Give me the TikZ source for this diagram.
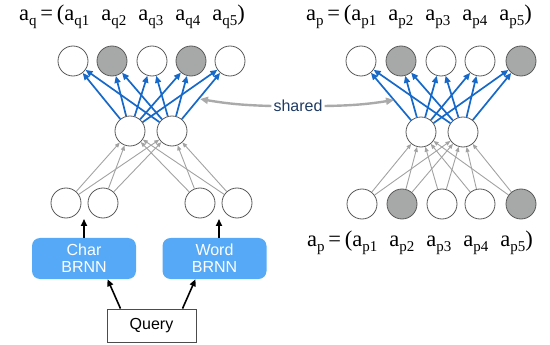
\documentclass[tikz,border=0pt]{standalone}
\usepackage{fontspec}
\setmainfont{Liberation Serif}
\newfontfamily\sansf{Liberation Sans}
\usetikzlibrary{arrows.meta}
\definecolor{nodegray}{HTML}{A7A9A9}
\definecolor{edgeblue}{HTML}{1769C9}
\definecolor{boxblue}{HTML}{55A9F7}
\definecolor{sharedtxt}{HTML}{1F3A63}
\definecolor{lightedge}{HTML}{AAAAAA}
\definecolor{thinedge}{HTML}{A2A2A2}
\newcommand{\sbs}[1]{\raisebox{-0.22em}{\fontsize{15}{15}\selectfont #1}}
\newcommand{\veclabel}[1]{\fontsize{22.5}{24}\selectfont a\sbs{#1}\,=\,(a\sbs{#11}\hspace{12pt}a\sbs{#12}\hspace{12pt}a\sbs{#13}\hspace{12pt}a\sbs{#14}\hspace{12pt}a\sbs{#15})}
\begin{document}
\begin{tikzpicture}[x=1pt,y=-1pt,
  unit/.style={circle,draw=black!65,line width=0.8pt,minimum size=30pt,inner sep=0pt,fill=white},
  gunit/.style={unit,fill=nodegray},
  bluearr/.style={-{Triangle[length=7pt,width=6pt]},draw=edgeblue,line width=1.7pt},
  grayarr/.style={-{Triangle[length=5pt,width=4pt]},draw=thinedge,line width=0.9pt},
  blackarr/.style={-{Triangle[length=7pt,width=6pt]},draw=black,line width=1.6pt},
  sharedarr/.style={-{Triangle[length=8pt,width=7pt]},draw=lightedge,line width=2.4pt},
  rnnbox/.style={rounded corners=8pt,fill=boxblue,text=white,minimum width=104pt,minimum height=41pt,align=center,font=\sansf\fontsize{16}{17}\selectfont},
  querybox/.style={draw=black!70,line width=0.8pt,fill=white,minimum width=89pt,minimum height=33pt,font=\sansf\fontsize{16}{18}\selectfont},
  lab/.style={inner sep=0pt}]
\useasboundingbox (0,0) rectangle (550,345);

% labels
\node[lab] (lq) at (132,17) {\veclabel{q}};
\node[lab] (lp) at (419,17) {\veclabel{p}};
\node[lab] (lpb) at (420,243) {\veclabel{p}};

% left network
\node[unit]  (q1) at (73,61) {};
\node[gunit] (q2) at (112,61) {};
\node[unit]  (q3) at (152,61) {};
\node[gunit] (q4) at (191,61) {};
\node[unit]  (q5) at (230,61) {};
\node[unit]  (lh1) at (130,131) {};
\node[unit]  (lh2) at (172,131) {};
\node[unit]  (lb1) at (66,203) {};
\node[unit]  (lb2) at (103,203) {};
\node[unit]  (lb3) at (200,203) {};
\node[unit]  (lb4) at (237,203) {};

\foreach \h in {lh1,lh2}{
  \foreach \t in {q1,q2,q3,q4,q5}{\draw[bluearr] (\h) -- (\t);}
  \foreach \b in {lb1,lb2,lb3,lb4}{\draw[grayarr] (\b) -- (\h);}
}

% right network
\node[unit]  (p1) at (361,61) {};
\node[gunit] (p2) at (401,61) {};
\node[unit]  (p3) at (441,61) {};
\node[unit]  (p4) at (480,61) {};
\node[gunit] (p5) at (521,61) {};
\node[unit]  (rh1) at (421,132) {};
\node[unit]  (rh2) at (463,132) {};
\node[unit]  (r1) at (362,204) {};
\node[gunit] (r2) at (402,204) {};
\node[unit]  (r3) at (442,204) {};
\node[unit]  (r4) at (480,204) {};
\node[gunit] (r5) at (521,204) {};

\foreach \h in {rh1,rh2}{
  \foreach \t in {p1,p2,p3,p4,p5}{\draw[bluearr] (\h) -- (\t);}
  \foreach \b in {r1,r2,r3,r4,r5}{\draw[grayarr] (\b) -- (\h);}
}

% shared
\node[font=\sansf\fontsize{16}{18}\selectfont,text=sharedtxt,inner sep=2pt] (sh) at (298,106) {shared};
\coordinate (shl) at (200,99);
\coordinate (shr) at (394,100);
\draw[sharedarr] (sh.west) to[bend left=4] (shl);
\draw[sharedarr] (sh.east) to[bend right=4] (shr);

% input side
\node[rnnbox] (cb) at (84,258.5) {Char\\BRNN};
\node[rnnbox] (wb) at (214.5,258.5) {Word\\BRNN};
\node[querybox] (qy) at (151.5,325.5) {Query};
\coordinate (cbt) at (84,219);
\coordinate (wbt) at (219,219);
\draw[blackarr] (cb.north -| cbt) -- (cbt);
\draw[blackarr] (wb.north -| wbt) -- (wbt);
\draw[blackarr] ([xshift=-31pt]qy.north) -- ([xshift=-44pt]qy.north |- cb.south);
\draw[blackarr] ([xshift=31pt]qy.north) -- ([xshift=44pt]qy.north |- wb.south);
\end{tikzpicture}
\end{document}
